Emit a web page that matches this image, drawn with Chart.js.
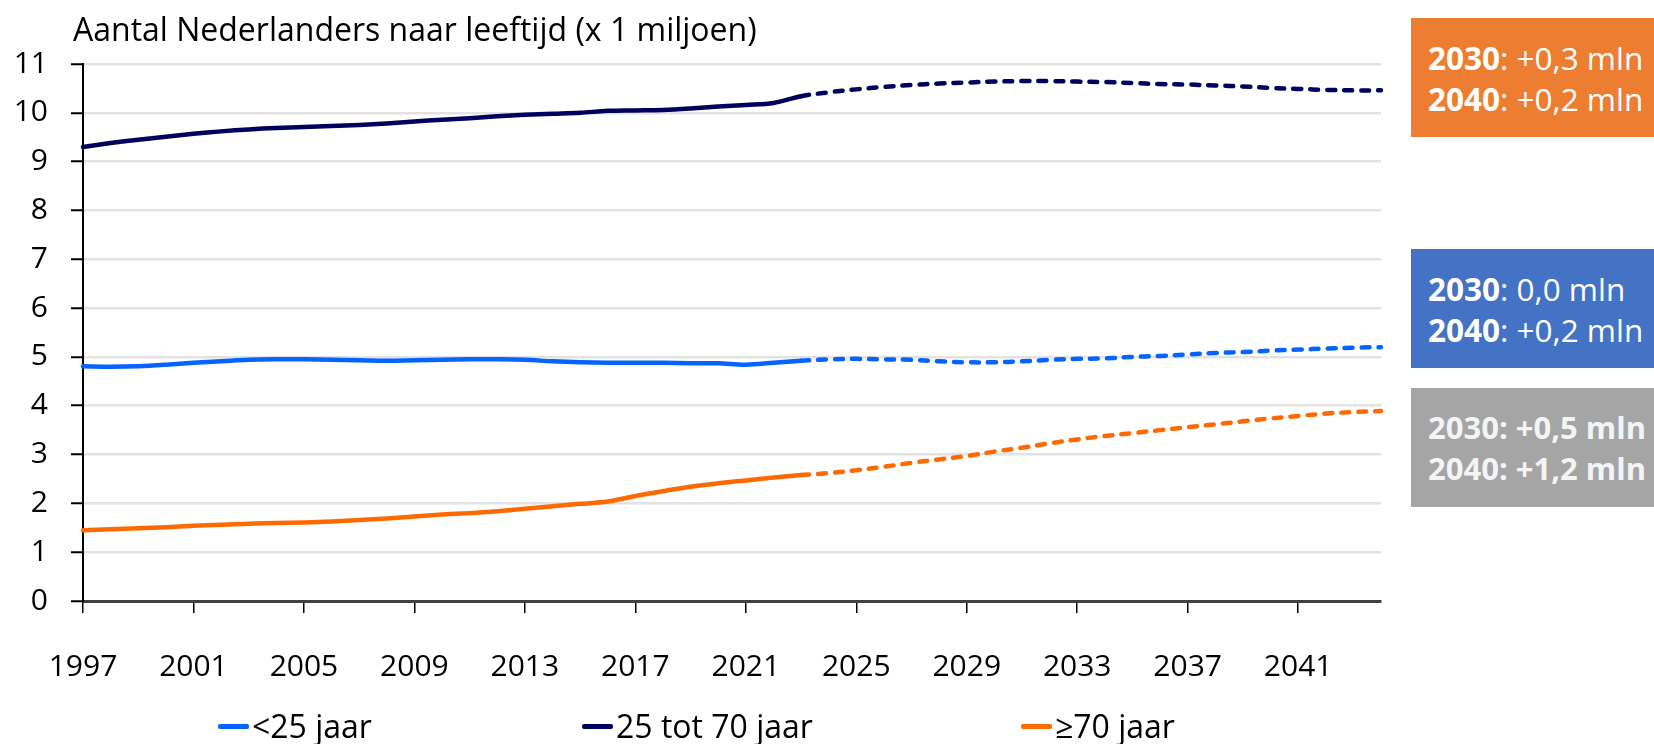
<!DOCTYPE html>
<html>
<head>
<meta charset="utf-8">
<script src="https://cdn.jsdelivr.net/npm/chart.js@4.4.1/dist/chart.umd.min.js"></script>
<style>
  html, body { margin: 0; padding: 0; background: #fff; }
  body { font-family: "Open Sans", sans-serif; }
  #wrap { position: relative; width: 1654px; height: 744px; overflow: hidden; }
  #myChart { position: absolute; left: 0; top: 0; }
  .title { position: absolute; left: 73px; top: 13px; font-size: 32px; line-height: 32px; color: #000; white-space: nowrap; }
  .box { position: absolute; left: 1411px; width: 243px; height: 119px; box-sizing: border-box; padding-left: 17px;
         display: flex; flex-direction: column; justify-content: center; font-size: 31.5px; line-height: 41px; color: #fff; white-space: nowrap; }
  .box b { font-weight: 700; }
  .legend-item { position: absolute; top: 707px; font-size: 32px; line-height: 38px; color: #000; white-space: nowrap; display: flex; align-items: center; }
  .legend-item span.mark { display: inline-block; width: 31px; height: 5px; border-radius: 2px; margin-right: 3px; }
</style>
</head>
<body>
<div id="wrap">
  <canvas id="myChart" width="1654" height="744"></canvas>
  <div class="title">Aantal Nederlanders naar leeftijd (x 1 miljoen)</div>
  <div class="box" style="top:18px;background:#ED7D31"><div><b>2030</b>: +0,3 mln</div><div><b>2040</b>: +0,2 mln</div></div>
  <div class="box" style="top:249px;background:#4472C4"><div><b>2030</b>: 0,0 mln</div><div><b>2040</b>: +0,2 mln</div></div>
  <div class="box" style="top:388px;background:#A5A5A5;color:#f4f4f4;font-weight:700;font-size:31px"><div>2030: +0,5 mln</div><div>2040: +1,2 mln</div></div>
  <div id="legend"></div>
</div>
<script>
const years = [1997,1998,1999,2000,2001,2002,2003,2004,2005,2006,2007,2008,2009,2010,2011,2012,
  2013,2014,2015,2016,2017,2018,2019,2020,2021,2022,2023,2024,2025,2026,2027,2028,2029,2030,
  2031,2032,2033,2034,2035,2036,2037,2038,2039,2040,2041,2042,2043,2044];
const tickYears = [1997,2001,2005,2009,2013,2017,2021,2025,2029,2033,2037,2041];

// <25 jaar
const under25 = [4.81,4.80,4.81,4.84,4.88,4.91,4.94,4.95,4.95,4.94,4.93,4.92,4.93,4.94,4.95,4.95,
  4.94,4.91,4.89,4.88,4.88,4.88,4.87,4.87,4.84,4.88,4.92,4.95,4.96,4.95,4.94,4.91,4.89,4.89,
  4.91,4.94,4.96,4.97,5.00,5.02,5.05,5.08,5.10,5.13,5.15,5.17,5.19,5.20];
// 25 tot 70 jaar
const age25to70 = [9.30,9.38,9.45,9.51,9.57,9.62,9.66,9.69,9.71,9.73,9.75,9.78,9.82,9.86,9.89,9.93,
  9.96,9.98,10.00,10.04,10.05,10.06,10.09,10.13,10.16,10.20,10.34,10.42,10.48,10.53,10.57,10.60,10.62,10.64,
  10.65,10.65,10.64,10.63,10.61,10.59,10.58,10.56,10.54,10.51,10.49,10.47,10.46,10.46];
// >=70 jaar
const over70 = [1.45,1.47,1.49,1.51,1.54,1.56,1.58,1.60,1.61,1.63,1.66,1.69,1.73,1.77,1.80,1.84,
  1.89,1.94,1.99,2.04,2.15,2.25,2.34,2.41,2.47,2.53,2.58,2.62,2.68,2.75,2.83,2.90,2.97,3.06,
  3.14,3.23,3.31,3.38,3.44,3.50,3.56,3.62,3.68,3.74,3.79,3.84,3.87,3.89];

const seriesNames = ['<25 jaar', '25 tot 70 jaar', '\u226570 jaar'];
const seriesColors = ['#0563FF', '#00005E', '#FF6A00'];
const forecastFrom = 26; // index of 2023, dashed from here

const FONT = '"Open Sans", sans-serif';

function makeSet(i, values) {
  return {
    label: seriesNames[i],
    data: years.map((y, k) => ({ x: y, y: values[k] })),
    borderColor: seriesColors[i],
    backgroundColor: seriesColors[i],
    borderWidth: 4.5,
    pointRadius: 0,
    tension: 0.35,
    borderCapStyle: 'round',
    clip: false,
    segment: {
      borderDash: c => c.p0DataIndex >= forecastFrom ? [8, 9] : undefined
    }
  };
}

document.addEventListener('DOMContentLoaded', () => {
  const ctx = document.getElementById('myChart');
  new Chart(ctx, {
    type: 'line',
    data: {
      datasets: [makeSet(0, under25), makeSet(1, age25to70), makeSet(2, over70)]
    },
    options: {
      responsive: false,
      animation: false,
      layout: { padding: { left: 0, right: 273, top: 64, bottom: 0 } },
      plugins: {
        legend: { display: false },
        tooltip: { enabled: false }
      },
      scales: {
        x: {
          type: 'linear',
          min: 1997,
          max: 2044,
          afterBuildTicks: scale => { scale.ticks = tickYears.map(v => ({ value: v })); },
          afterFit: scale => { scale.height = 143; },
          ticks: {
            autoSkip: false,
            maxRotation: 0,
            padding: 36,
            color: '#000',
            font: { family: FONT, size: 30 },
            callback: v => String(v)
          },
          grid: { drawOnChartArea: false, drawTicks: true, tickLength: 12, tickColor: '#000', lineWidth: 1.5 },
          border: { color: '#404040', width: 3 }
        },
        y: {
          min: 0,
          max: 11,
          afterFit: scale => { scale.width = 83; },
          ticks: {
            stepSize: 1,
            padding: 23,
            color: '#000',
            font: { family: FONT, size: 30 }
          },
          grid: { color: '#e2e2e2', lineWidth: 2.5, tickLength: 12, tickColor: '#000', tickWidth: 2 },
          border: { color: '#000', width: 2 }
        }
      }
    }
  });

  // legend below the chart
  const legendLeft = [218, 582, 1021];
  const legend = document.getElementById('legend');
  seriesNames.forEach((name, i) => {
    const item = document.createElement('div');
    item.className = 'legend-item';
    item.style.left = legendLeft[i] + 'px';
    item.innerHTML = '<span class="mark" style="background:' + seriesColors[i] + '"></span>' + name.replace('<', '&lt;');
    legend.appendChild(item);
  });
});
</script>
</body>
</html>
